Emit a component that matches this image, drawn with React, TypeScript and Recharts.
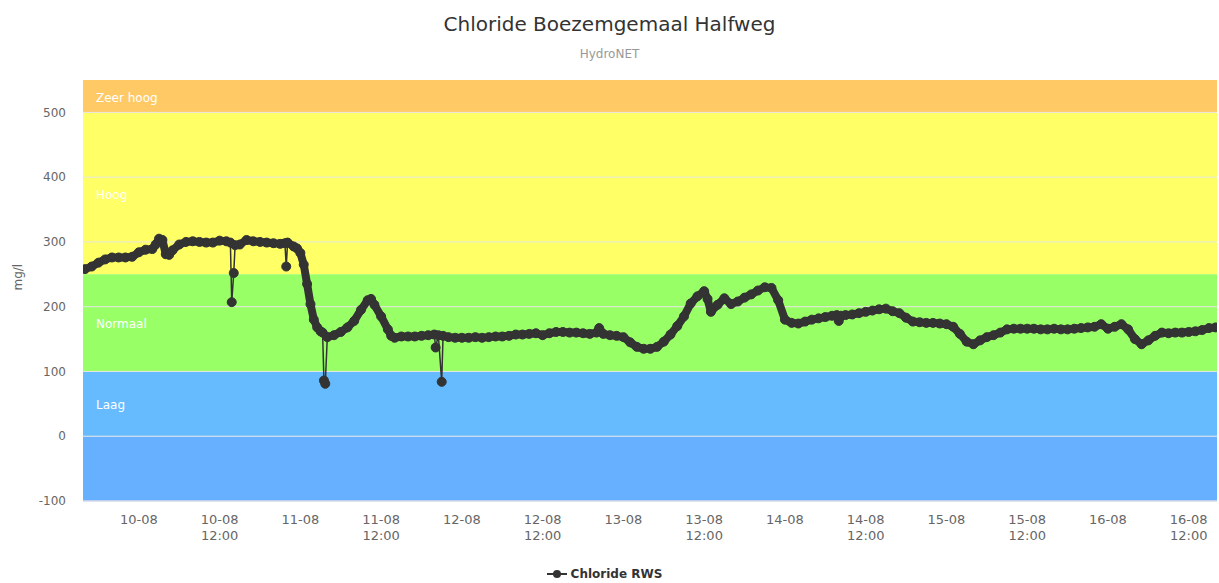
import React from 'react';
import { LineChart, Line, XAxis, YAxis, ReferenceArea, ReferenceLine } from 'recharts';

const FONT = '"DejaVu Sans", Verdana, sans-serif';

// hours relative to 10-08 00:00
const mainHours = [
  -8, -7, -6, -5, -4, -3, -2, -1, 0, 1, 2, 2.5, 3, 3.5, 4, 4.5, 5, 6, 7, 8, 9, 10, 11, 12, 13, 13.6,
  14.3, 15, 16, 17, 18, 19, 20, 21, 21.7, 22.1, 23, 23.5, 24, 24.5, 25, 25.5, 26, 26.5, 27, 27.3,
  28, 29, 30, 31, 32, 33, 34, 34.5, 35, 36, 37, 37.5, 38, 39, 40, 41, 42, 43, 43.9, 44.5, 45.2,
  46, 47, 48, 49, 50, 51, 52, 53, 54, 55, 56, 57, 58, 59, 60, 61, 62, 63, 64, 65, 66, 67, 68, 68.4,
  69, 70, 71, 72, 73, 74, 75, 76, 77, 78, 79, 80, 81, 82, 83, 84, 84.5, 85, 86, 87, 88, 89, 90, 91,
  92, 93, 94, 95, 96, 97, 98, 99, 100, 101, 102, 103, 103.7, 104, 104.3, 105, 106, 107, 108, 109,
  110, 111, 112, 113, 114, 115, 116, 117, 118, 119, 120, 121, 122, 123, 124, 125, 126, 127, 128,
  129, 130, 131, 132, 133, 134, 135, 136, 137, 138, 139, 140, 141, 142, 143, 144, 145, 146, 147,
  148, 149, 150, 151, 152, 153, 154, 155, 156, 157, 158, 159, 160,
];
const mainValues = [
  258, 262, 268, 273, 276, 276, 276, 277, 284, 288, 289, 296, 305, 303, 281, 280, 287, 296, 300, 301, 300, 299, 299, 302, 301, 299,
  295, 296, 303, 301, 300, 299, 298, 297, 298, 299, 293, 290, 283, 265, 235, 204, 180, 168, 162, 160,
  153, 156, 161, 168, 178, 195, 210, 212, 203, 185, 165, 155, 152, 154, 154, 154, 155, 156, 157, 156, 155,
  153, 152, 152, 152, 153, 152, 153, 154, 154, 155, 157, 157, 158, 159, 156, 159, 161, 161, 160, 160, 159, 158, 160, 167,
  158, 156, 155, 153, 145, 138, 135, 135, 138, 146, 157, 170, 185, 205, 216, 224, 212, 192, 203, 213, 204, 208, 214, 219,
  225, 230, 229, 210, 180, 175, 174, 177, 180, 182, 184, 186, 187, 178, 186, 187, 188, 190, 192, 194,
  196, 197, 193, 190, 183, 177, 176, 175, 175, 174, 173, 169, 158, 146, 142, 148, 153, 156, 160,
  165, 166, 166, 166, 166, 165, 165, 166, 165, 165, 166, 167, 168, 169, 173, 166, 169, 173, 165,
  150, 142, 148, 155, 160, 159, 160, 160, 161, 162, 164, 167, 168,
];
const spikeHours = [13.8, 14.1, 21.9, 27.5, 27.7, 44.1, 45.0];
const spikeValues = [207, 252, 262, 86, 81, 137, 84];

const tickHours = [0, 12, 24, 36, 48, 60, 72, 84, 96, 108, 120, 132, 144, 156];
const tickLabels = [
  '10-08', '10-08|12:00', '11-08', '11-08|12:00', '12-08', '12-08|12:00', '13-08',
  '13-08|12:00', '14-08', '14-08|12:00', '15-08', '15-08|12:00', '16-08', '16-08|12:00',
];
const yTicks = [-100, 0, 100, 200, 300, 400, 500];

const bandNames = ['Zeer hoog', 'Hoog', 'Normaal', 'Laag', ''];
const bandFrom = [500, 250, 100, 0, -100];
const bandTo = [550, 500, 250, 100, 0];
const bandColors = ['#FFC966', '#FFFF66', '#99FF66', '#66BBFF', '#66B0FF'];

const data = [
  ...mainHours.map((h, i) => ({ h, base: mainValues[i], all: mainValues[i] })),
  ...spikeHours.map((h, i) => ({ h, base: null as number | null, all: spikeValues[i] })),
].sort((a, b) => a.h - b.h);

const XTick = (props: any) => {
  const { x, y, payload } = props;
  const idx = tickHours.indexOf(payload.value);
  const parts = (idx >= 0 ? tickLabels[idx] : '').split('|');
  return (
    <text x={x} y={y} textAnchor="middle" fill="#666" fontSize={13} fontFamily={FONT}>
      {parts.map((p, i) => (
        <tspan key={i} x={x} dy={i === 0 ? '0.71em' : 16}>{p}</tspan>
      ))}
    </text>
  );
};

const BandLabel = (props: any) => {
  const { viewBox, value } = props;
  if (!viewBox || !value) return null;
  return (
    <text
      x={viewBox.x + 13}
      y={viewBox.y + viewBox.height / 2 + 2}
      dominantBaseline="middle"
      fill="#fff"
      fontSize={12}
      fontFamily={FONT}
    >
      {value}
    </text>
  );
};

export default function App() {
  return (
    <div style={{ position: 'absolute', left: 0, top: 0, width: 1219, height: 583, background: '#fff', fontFamily: FONT }}>
      <div style={{ position: 'absolute', left: 0, width: 1219, top: 12, textAlign: 'center', fontSize: 20, color: '#333' }}>
        Chloride Boezemgemaal Halfweg
      </div>
      <div style={{ position: 'absolute', left: 0, width: 1219, top: 47, textAlign: 'center', fontSize: 12, color: '#999' }}>
        HydroNET
      </div>
      <LineChart width={1219} height={583} data={data} margin={{ top: 80, right: 2, bottom: 42, left: 0 }}>
        <XAxis
          dataKey="h"
          type="number"
          domain={[-8.3, 160.2]}
          ticks={tickHours}
          allowDataOverflow
          height={40}
          tickLine={false}
          tickSize={0}
          tickMargin={14}
          axisLine={{ stroke: '#ccd6eb' }}
          tick={<XTick />}
          interval={0}
        />
        <YAxis
          type="number"
          domain={[-100, 550]}
          ticks={yTicks}
          allowDataOverflow
          width={83}
          axisLine={false}
          tickLine={false}
          tickSize={0}
          tickMargin={17}
          tick={{ fill: '#666', fontSize: 12, fontFamily: FONT }}
          label={{ value: 'mg/l', angle: -90, position: 'insideLeft', offset: 18, fill: '#666', fontSize: 12, fontFamily: FONT }}
        />
        {bandNames.map((name, i) => (
          <ReferenceArea
            key={'b' + i}
            y1={bandFrom[i]}
            y2={bandTo[i]}
            fill={bandColors[i]}
            fillOpacity={1}
            stroke="none"
            ifOverflow="visible"
            label={name ? <BandLabel value={name} /> : undefined}
          />
        ))}
        {yTicks.map((t) => (
          <ReferenceLine key={'g' + t} y={t} stroke="#e6e6e6" strokeWidth={1} ifOverflow="visible" />
        ))}
        <Line
          dataKey="base"
          connectNulls
          stroke="#333"
          strokeWidth={8}
          strokeLinejoin="round"
          strokeLinecap="round"
          dot={false}
          activeDot={false}
          legendType="none"
          isAnimationActive={false}
        />
        <Line
          dataKey="all"
          name="Chloride RWS"
          stroke="#333"
          strokeWidth={1.5}
          dot={{ r: 4.5, fill: '#333', stroke: '#333', strokeWidth: 1 }}
          activeDot={false}
          isAnimationActive={false}
        />
      </LineChart>
      <div style={{ position: 'absolute', top: 566, left: 0, width: 1209, display: 'flex', justifyContent: 'center', alignItems: 'center' }}>
        <svg width={20} height={16} style={{ marginRight: 4 }}>
          <line x1={0} y1={8} x2={20} y2={8} stroke="#333" strokeWidth={2} />
          <circle cx={10} cy={8} r={4} fill="#333" />
        </svg>
        <span style={{ fontSize: 12, fontWeight: 'bold', color: '#333' }}>Chloride RWS</span>
      </div>
    </div>
  );
}
